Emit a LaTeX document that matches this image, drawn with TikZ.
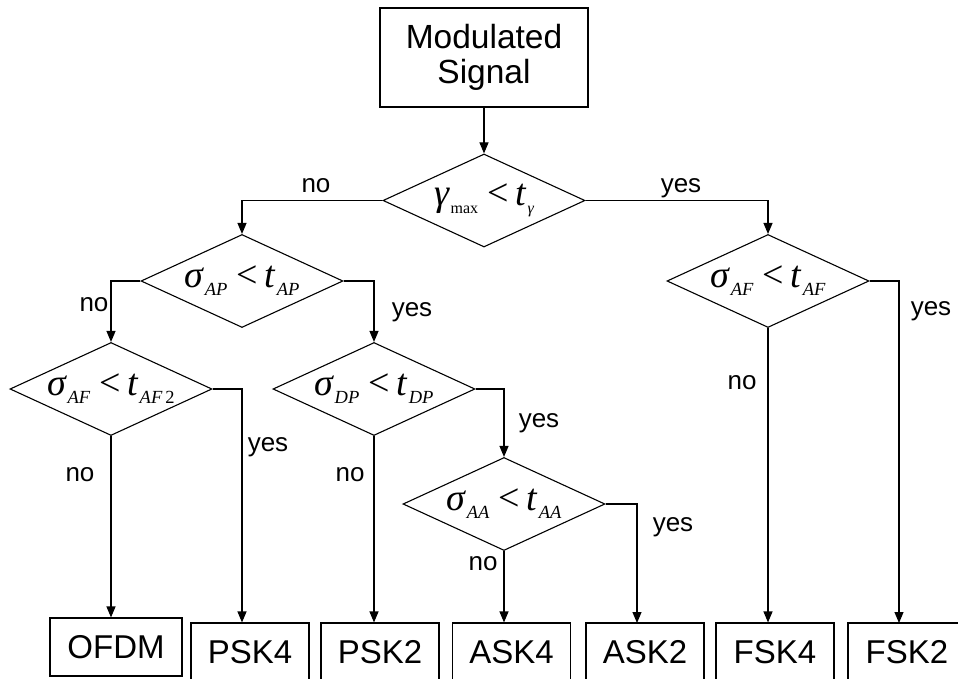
\documentclass[tikz,border=0pt]{standalone}
\usepackage{fontspec}
\setmainfont{Liberation Sans}
\newfontfamily\tms{Liberation Serif}
\usetikzlibrary{shapes.geometric,arrows.meta}

\newcommand\mvar[1]{{\tms\itshape #1}}
\newcommand\msub[1]{\hspace{1.5pt}\raisebox{-8pt}{\fontsize{18.5}{18.5}\selectfont\tms #1}}
\newcommand\msubm[1]{\hspace{1.5pt}\raisebox{-8pt}{\fontsize{16}{16}\selectfont\tms #1}}
\newcommand\mlt{\hspace{9pt}{\tms <}\hspace{7pt}}

\tikzset{
  dec/.style={draw, shape=diamond, aspect=2.17, minimum width=202pt,
    minimum height=93pt, inner sep=0pt, line width=1.1pt,
    font=\tms\fontsize{38}{40}\selectfont},
  outbox/.style={draw, line width=1.1pt, minimum width=118pt,
    minimum height=58pt, inner sep=0pt, font=\fontsize{33}{36}\selectfont},
  lbl/.style={font=\fontsize{26}{28}\selectfont, anchor=base, inner sep=0pt},
  arr/.style={line width=1.1pt, -{Triangle[length=11pt,width=9pt]}},
}

\begin{document}
\begin{tikzpicture}[x=1pt, y=-1pt]
\useasboundingbox (0,0) rectangle (958,679);
\clip (0,0) rectangle (958,679);

% source box
\node[draw, line width=1.1pt, minimum width=208pt, minimum height=99pt,
  inner sep=0pt, align=center, font=\fontsize{33.5}{35}\selectfont]
  (top) at (484,57.5) {Modulated\\Signal};

% decision diamonds
\node[dec] (d1) at (484,200.5) {\mvar{γ}\msubm{max}\mlt\mvar{t}\msubm{\itshape γ}};
\node[dec] (d2) at (242,281) {\mvar{σ}\msub{\itshape AP}\mlt\mvar{t}\msub{\itshape AP}};
\node[dec] (d3) at (768,281) {\mvar{σ}\msub{\itshape AF}\mlt\mvar{t}\msub{\itshape AF}};
\node[dec] (d4) at (111,389) {\mvar{σ}\msub{\itshape AF}\mlt\mvar{t}\msub{{\itshape AF}\,2}};
\node[dec] (d5) at (374,389) {\mvar{σ}\msub{\itshape DP}\mlt\mvar{t}\msub{\itshape DP}};
\node[dec] (d6) at (504,504) {\mvar{σ}\msub{\itshape AA}\mlt\mvar{t}\msub{\itshape AA}};

% result boxes
\node[outbox, minimum width=132pt] (ofdm) at (116,647) {OFDM};
\node[outbox] (psk4) at (250,652) {PSK4};
\node[outbox] (psk2) at (380,652) {PSK2};
\node[outbox] (ask4) at (511.5,652) {ASK4};
\node[outbox] (ask2) at (645,652) {ASK2};
\node[outbox] (fsk4) at (775,652) {FSK4};
\node[outbox] (fsk2) at (907,652) {FSK2};

\coordinate (a2) at (637,623);
\coordinate (f2) at (899,623);

% connectors
\draw[arr] (top.south) -- (d1.north);
\draw[arr] (d1.west) -| (d2.north);
\draw[arr] (d1.east) -| (d3.north);
\draw[arr] (d2.west) -| (d4.north);
\draw[arr] (d2.east) -| (d5.north);
\draw[arr] (d4.south) -- (d4.south |- ofdm.north);
\draw[arr] (d4.east) -| (d2.south |- psk4.north);
\draw[arr] (d5.south) -- (d5.south |- psk2.north);
\draw[arr] (d5.east) -| (d6.north);
\draw[arr] (d6.south) -- (d6.south |- ask4.north);
\draw[arr] (d6.east) -| (a2);
\draw[arr] (d3.south) -- (d3.south |- fsk4.north);
\draw[arr] (d3.east) -| (f2);

% branch labels
\node[lbl] (l1n) at (316,193) {no};
\node[lbl] (l1y) at (681,193) {yes};
\node[lbl] (l2n) at (94,311) {no};
\node[lbl] (l2y) at (412,316) {yes};
\node[lbl] (l4n) at (80,481) {no};
\node[lbl] (l4y) at (268,451) {yes};
\node[lbl] (l5n) at (350,481) {no};
\node[lbl] (l5y) at (539,427) {yes};
\node[lbl] (l6n) at (483,570) {no};
\node[lbl] (l6y) at (673,531) {yes};
\node[lbl] (l3n) at (742,389) {no};
\node[lbl] (l3y) at (931,315) {yes};
\end{tikzpicture}
\end{document}
